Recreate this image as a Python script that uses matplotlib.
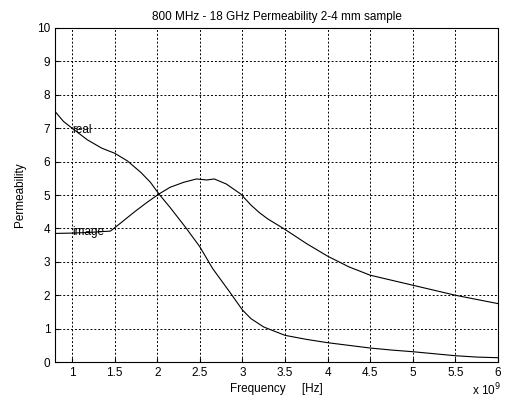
import numpy as np
import matplotlib.pyplot as plt

plt.rcParams['font.family'] = ['Liberation Sans', 'DejaVu Sans']

# Frequency in units of 1e9 Hz
freq_real = [0.8, 0.9, 1.0, 1.18, 1.35, 1.5, 1.65, 1.81, 1.92, 2.02, 2.15,
             2.33, 2.5, 2.65, 2.85, 3.0, 3.1, 3.25, 3.5, 3.75, 4.0, 4.25,
             4.5, 4.75, 5.0, 5.25, 5.5, 5.75, 6.0]
mu_real = [7.5, 7.2, 7.0, 6.65, 6.4, 6.25, 6.02, 5.67, 5.38, 5.03, 4.63,
           4.04, 3.45, 2.8, 2.1, 1.56, 1.3, 1.05, 0.8, 0.68, 0.58, 0.5,
           0.42, 0.36, 0.31, 0.25, 0.19, 0.15, 0.13]

freq_imag = [0.8, 1.0, 1.2, 1.45, 1.55, 1.73, 1.88, 2.02, 2.15, 2.31, 2.46,
             2.58, 2.67, 2.81, 2.98, 3.1, 3.2, 3.3, 3.5, 3.75, 4.0, 4.25,
             4.5, 5.0, 5.5, 6.0]
mu_imag = [3.85, 3.86, 3.88, 3.92, 4.12, 4.49, 4.78, 5.03, 5.23, 5.38, 5.48,
           5.45, 5.48, 5.33, 5.03, 4.7, 4.47, 4.28, 3.97, 3.55, 3.17, 2.85,
           2.6, 2.3, 2.0, 1.75]

xticks = [1, 1.5, 2, 2.5, 3, 3.5, 4, 4.5, 5, 5.5, 6]
xticklabels = ['1', '1.5', '2', '2.5', '3', '3.5', '4', '4.5', '5', '5.5', '6']
yticks = list(range(0, 11))

fig = plt.figure(figsize=(5.05, 4.05), dpi=100)
ax = fig.add_axes([0.109, 0.106, 0.877, 0.825])

ax.plot(freq_real, mu_real, 'k-', linewidth=0.8)
ax.plot(freq_imag, mu_imag, 'k-', linewidth=0.8)
ax.text(1.0, 6.95, 'real', fontsize=8.5, va='center')
ax.text(1.0, 3.88, 'image', fontsize=8.5, va='center')

ax.set_xlim(0.8, 6)
ax.set_ylim(0, 10)
ax.set_xticks(xticks)
ax.set_xticklabels(xticklabels)
ax.set_yticks(yticks)
ax.tick_params(direction='in', labelsize=8.5, length=3)
ax.grid(True, color='k', linestyle=(0, (2, 2)), linewidth=0.7)
ax.set_title('800 MHz - 18 GHz Permeability 2-4 mm sample', fontsize=8.5, pad=6)
ax.set_xlabel('Frequency     [Hz]', fontsize=8.5, labelpad=3)
ax.set_ylabel('Permeability', fontsize=8.5, labelpad=8)
fig.text(0.935, 0.025, r'x 10$^9$', fontsize=8.5)

fig.savefig('out.png', dpi=100)
